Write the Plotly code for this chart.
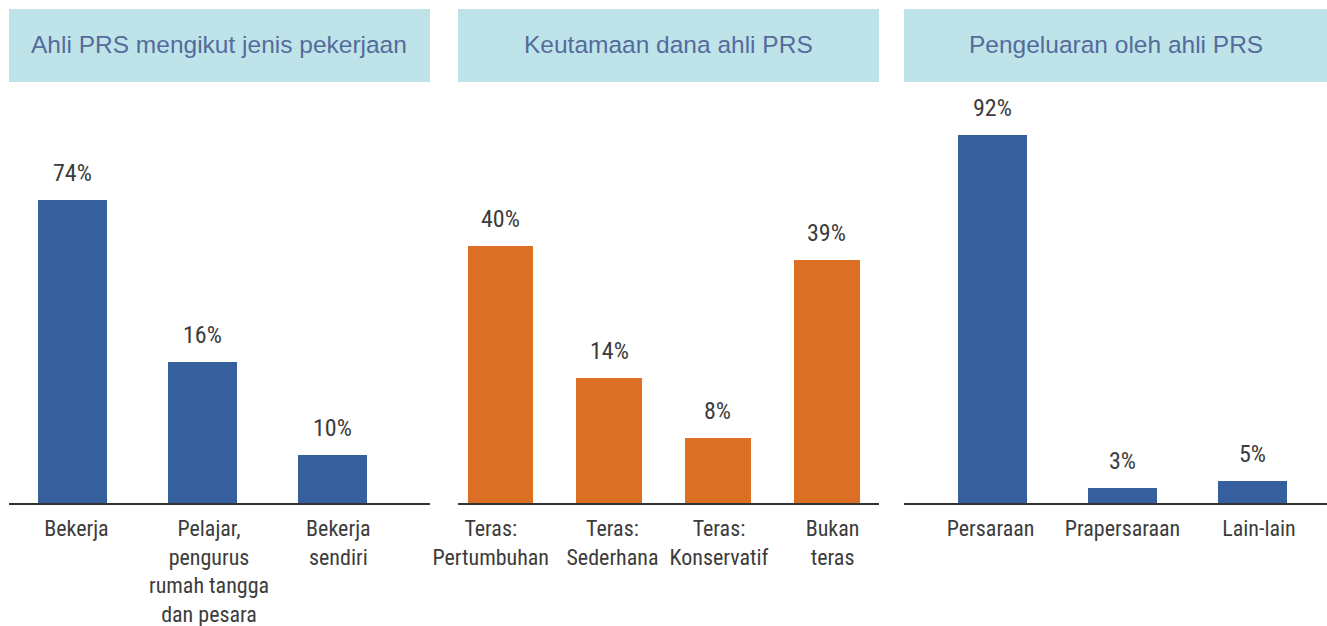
import plotly.graph_objects as go

# ---- data ----
titles = ["Ahli PRS mengikut jenis pekerjaan", "Keutamaan dana ahli PRS", "Pengeluaran oleh ahli PRS"]

jenis_categories = ["Bekerja", "Pelajar,<br>pengurus<br>rumah tangga<br>dan pesara", "Bekerja<br>sendiri"]
jenis_labels = ["74%", "16%", "10%"]
# bar heights as drawn in the reference (not proportional to the printed labels)
jenis_heights = [75.8, 35.3, 12.0]

dana_categories = ["Teras:<br>Pertumbuhan", "Teras:<br>Sederhana", "Teras:<br>Konservatif", "Bukan<br>teras"]
dana_labels = ["40%", "14%", "8%", "39%"]
dana_heights = [64.3, 31.3, 16.3, 60.8]

keluar_categories = ["Persaraan", "Prapersaraan", "Lain-lain"]
keluar_labels = ["92%", "3%", "5%"]
keluar_heights = [92.0, 3.8, 5.5]

# ---- style ----
W, H = 1327, 626
BLUE = "#365f9e"
ORANGE = "#db7025"
HEADER_BG = "#bee4ea"
HEADER_TXT = "#556b9b"
TXT = "#3c3c3c"
FONT = "Liberation Sans Narrow, Arial Narrow, Roboto Condensed, sans-serif"

panels = [
    dict(cats=jenis_categories, h=jenis_heights, lab=jenis_labels, color=BLUE,
         px=(9, 430), rng=[-0.4885, 2.75], width=0.531, tick_shift=[0.03, 0.05, 0.045]),
    dict(cats=dana_categories, h=dana_heights, lab=dana_labels, color=ORANGE,
         px=(458, 879), rng=[-0.391, 3.482], width=0.607, tick_shift=[-0.09, 0.03, 0.01, 0.055]),
    dict(cats=keluar_categories, h=keluar_heights, lab=keluar_labels, color=BLUE,
         px=(904, 1327), rng=[-0.681, 2.573], width=0.531, tick_shift=[-0.015, 0.0, 0.05]),
]

y_dom = [123 / H, 526 / H]
y_rng = [0, 100.75]

fig = go.Figure()
shapes = []
annotations = []
for k, p in enumerate(panels):
    sfx = "" if k == 0 else str(k + 1)
    xs = list(range(len(p["cats"])))
    fig.add_trace(go.Bar(
        x=xs, y=p["h"], width=p["width"], marker=dict(color=p["color"], line=dict(width=0)),
        xaxis="x" + sfx, yaxis="y" + sfx, showlegend=False, hoverinfo="skip",
    ))
    dom = [p["px"][0] / W, p["px"][1] / W]
    tickpos = [i + s for i, s in zip(xs, p["tick_shift"])]
    fig.update_layout(**{
        "xaxis" + sfx: dict(domain=dom, range=p["rng"], tickvals=tickpos, ticktext=p["cats"],
                            showgrid=False, zeroline=False, showline=True, linecolor="#333333",
                            linewidth=1.5, ticks="outside", ticklen=5, tickcolor="rgba(0,0,0,0)",
                            tickfont=dict(family=FONT, size=22, color=TXT),
                            anchor="y" + sfx, fixedrange=True, automargin=False),
        "yaxis" + sfx: dict(domain=y_dom, range=y_rng, visible=False,
                            anchor="x" + sfx, fixedrange=True, automargin=False),
    })
    for i, (hv, lb) in enumerate(zip(p["h"], p["lab"])):
        annotations.append(dict(x=i, y=hv, xref="x" + sfx, yref="y" + sfx, text=lb,
                                showarrow=False, yanchor="bottom", yshift=11,
                                font=dict(family=FONT, size=24, color=TXT)))
    # header box
    shapes.append(dict(type="rect", xref="paper", yref="paper",
                       x0=p["px"][0] / W, x1=p["px"][1] / W, y0=1 - 82 / H, y1=1 - 9 / H,
                       fillcolor=HEADER_BG, line=dict(width=0), layer="below"))
    annotations.append(dict(x=(p["px"][0] + p["px"][1]) / 2 / W, y=1 - 45 / H, xref="paper", yref="paper",
                            text=titles[k], showarrow=False, xanchor="center", yanchor="middle",
                            font=dict(family="Liberation Sans, Arial, sans-serif", size=24.5, color=HEADER_TXT)))

fig.update_layout(width=W, height=H, margin=dict(l=0, r=0, t=0, b=0, autoexpand=False),
                  paper_bgcolor="white", plot_bgcolor="rgba(0,0,0,0)",
                  shapes=shapes, annotations=annotations, bargap=0)

fig.write_html("out.html", config={"displayModeBar": False},
               post_script="document.body.style.margin='0';document.body.style.overflow='hidden';")
